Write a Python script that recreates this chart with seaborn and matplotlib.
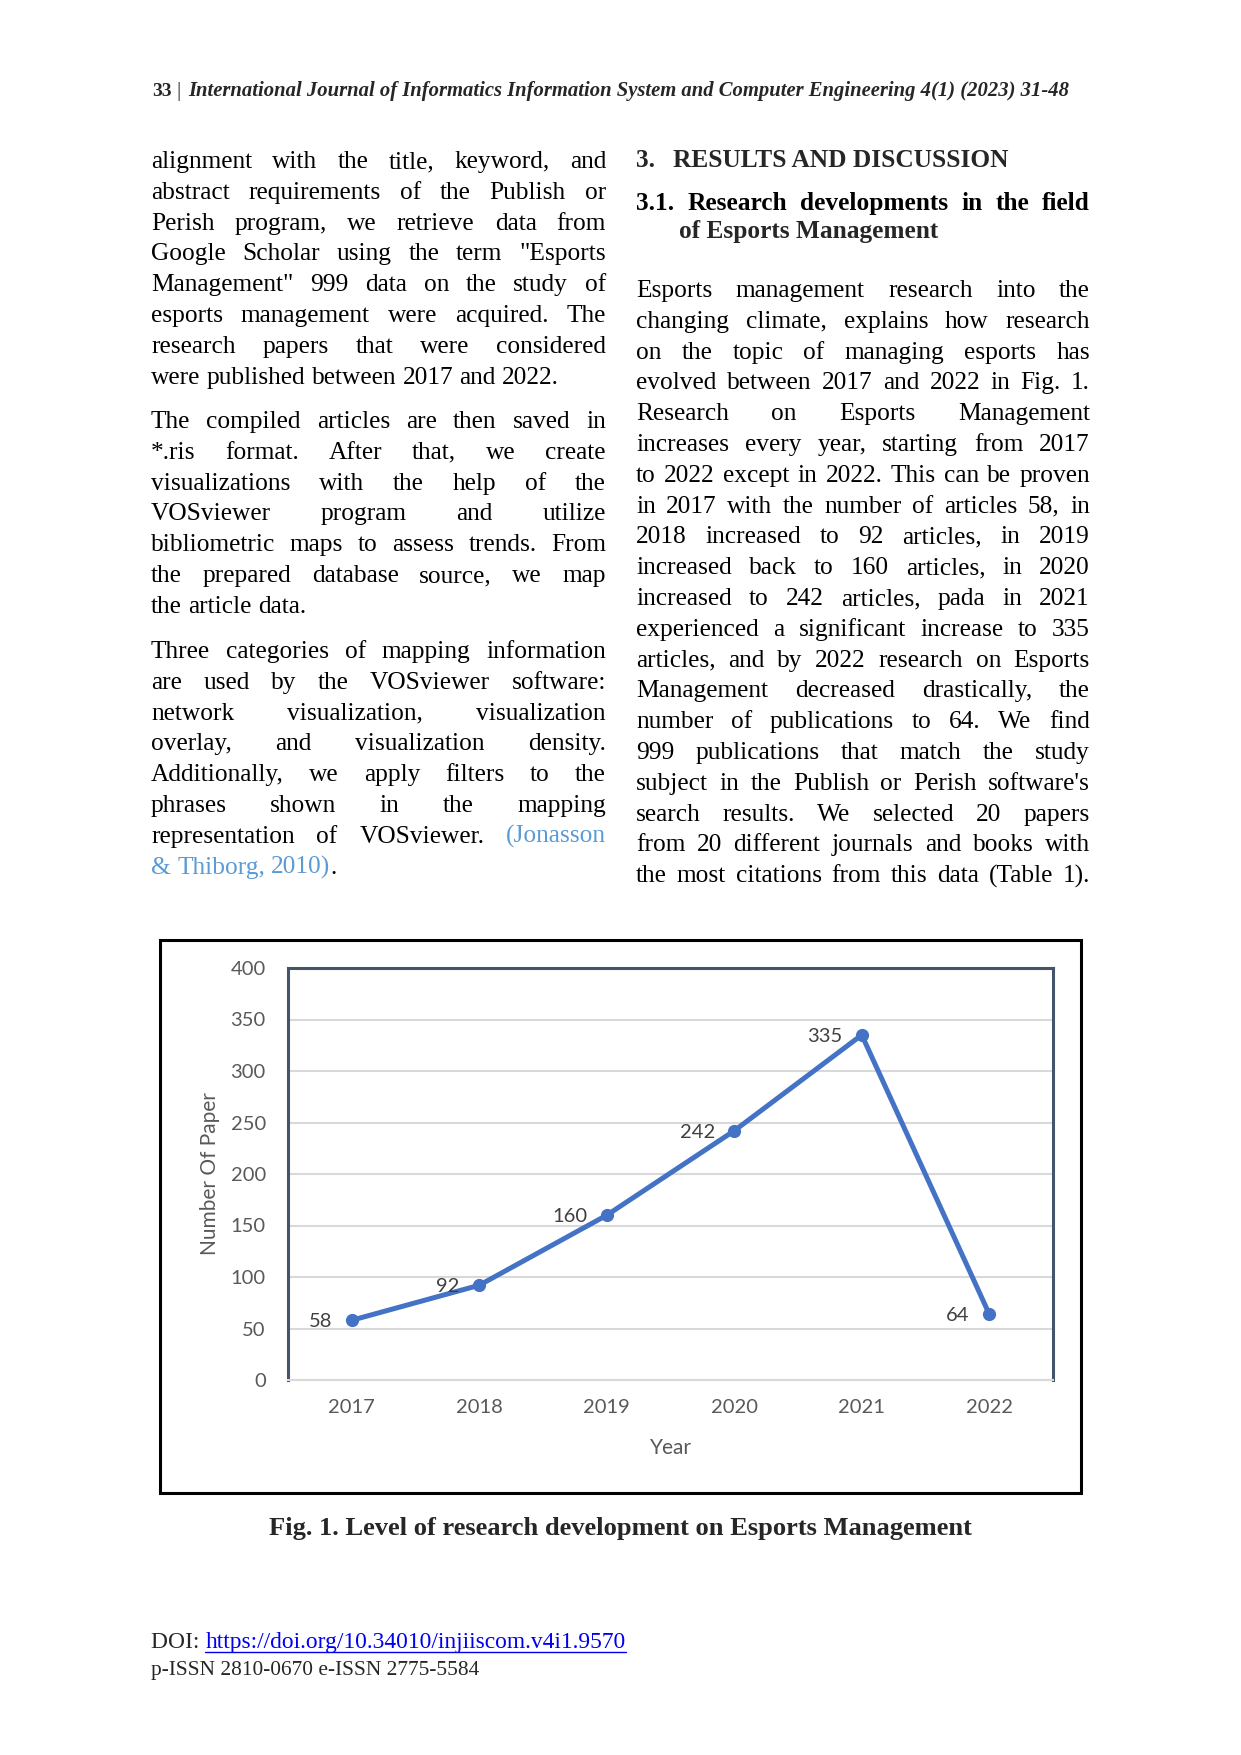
import matplotlib
matplotlib.use("Agg")
import matplotlib.pyplot as plt
import seaborn as sns
from matplotlib.patches import Rectangle

# chart data
years = ["2017", "2018", "2019", "2020", "2021", "2022"]
papers = [58, 92, 160, 242, 335, 64]
y_ticks = [0, 50, 100, 150, 200, 250, 300, 350, 400]

# page text, line by line as in the paper
header_num = "33"
header_title = "International Journal of Informatics Information System and Computer Engineering 4(1) (2023) 31-48"

left_p1 = [
    "alignment with the title, keyword, and",
    "abstract requirements of the Publish or",
    "Perish program, we retrieve data from",
    "Google Scholar using the term \"Esports",
    "Management\" 999 data on the study of",
    "esports management were acquired. The",
    "research papers that were considered",
    "were published between 2017 and 2022.",
]
left_p2 = [
    "The compiled articles are then saved in",
    "*.ris format. After that, we create",
    "visualizations with the help of the",
    "VOSviewer program and utilize",
    "bibliometric maps to assess trends. From",
    "the prepared database source, we map",
    "the article data.",
]
left_p3 = [
    "Three categories of mapping information",
    "are used by the VOSviewer software:",
    "network visualization, visualization",
    "overlay, and visualization density.",
    "Additionally, we apply filters to the",
    "phrases shown in the mapping",
    "representation of VOSviewer.",
]
right_body = [
    "Esports management research into the",
    "changing climate, explains how research",
    "on the topic of managing esports has",
    "evolved between 2017 and 2022 in Fig. 1.",
    "Research on Esports Management",
    "increases every year, starting from 2017",
    "to 2022 except in 2022. This can be proven",
    "in 2017 with the number of articles 58, in",
    "2018 increased to 92 articles, in 2019",
    "increased back to 160 articles, in 2020",
    "increased to 242 articles, pada in 2021",
    "experienced a significant increase to 335",
    "articles, and by 2022 research on Esports",
    "Management decreased drastically, the",
    "number of publications to 64.  We find",
    "999 publications that match the study",
    "subject in the Publish or Perish software's",
    "search results. We selected 20 papers",
    "from 20 different journals and books with",
    "the most citations from this data (Table 1).",
]
caption = "Fig. 1. Level of research development on Esports Management"
doi_url = "https://doi.org/10.34010/injiiscom.v4i1.9570"
issn = "p-ISSN 2810-0670 e-ISSN 2775-5584"

W, H = 1241, 1755
SERIF = "Liberation Serif"
BODY = 18.3
LEAD = 30.8
CITE = "#5B9BD5"

sns.set_style("white")
plt.rcParams["font.family"] = ["Lato", "DejaVu Sans"]

fig = plt.figure(figsize=(W / 100, H / 100), dpi=100)
renderer = fig.canvas.get_renderer()


def fx(x):
    return x / W


def fy(y):
    return 1 - y / H


def make_words(tokens, size, **kw):
    words = []
    for tok in tokens:
        segs = [(tok, "black")] if isinstance(tok, str) else tok
        objs = []
        for s, c in segs:
            t = fig.text(0, 0, s, color=c, ha="left", va="baseline",
                         fontsize=size, **kw)
            objs.append((t, t.get_window_extent(renderer).width))
        words.append(objs)
    return words


def put_line(tokens, x0, x1, y, justify=True, size=BODY, **kw):
    # tokens: words; a word is a string or a list of (text, colour) pieces
    words = make_words(tokens, size, **kw)
    widths = [sum(w for _, w in objs) for objs in words]
    em = size * 100 / 72
    need = sum(widths) + 0.2 * em * (len(words) - 1)
    if need > x1 - x0:
        # line too long for this font: shrink it a little
        for objs in words:
            for t, _ in objs:
                t.remove()
        size = size * (x1 - x0) / need
        em = size * 100 / 72
        words = make_words(tokens, size, **kw)
        widths = [sum(w for _, w in objs) for objs in words]
    gap = em * 0.25
    if justify and len(words) > 1:
        gap = (x1 - x0 - sum(widths)) / (len(words) - 1)
    x = x0
    for objs in words:
        for t, w in objs:
            t.set_position((fx(x), fy(y)))
            x += w
        x += gap


def put_par(lines, x0, x1, y0, last_justify=False):
    for i, line in enumerate(lines):
        last = i == len(lines) - 1
        put_line(line.split(), x0, x1, y0 + i * LEAD,
                 justify=(not last) or last_justify, family=SERIF)


def fit_size(text, width, **kw):
    t = fig.text(0, 0, text, **kw)
    w = t.get_window_extent(renderer).width
    t.remove()
    return kw["fontsize"] * width / w


# header
fig.text(fx(152), fy(96), header_num, family=SERIF, fontweight="bold",
         fontsize=14, va="baseline")
fig.text(fx(176), fy(96), "|", family=SERIF, fontsize=15, va="baseline")
hs = fit_size(header_title, 1073 - 188, family=SERIF, fontweight="bold",
              fontstyle="italic", fontsize=14)
fig.text(fx(188), fy(96), header_title, family=SERIF, fontweight="bold",
         fontstyle="italic", fontsize=hs, va="baseline")

# left column
LX0, LX1 = 151, 606
put_par(left_p1, LX0, LX1, 168)
put_par(left_p2, LX0, LX1, 428)
put_par(left_p3[:-1], LX0, LX1, 658, last_justify=True)
put_line(left_p3[-1].split() + [[("(Jonasson", CITE)]], LX0, LX1, 658 + 6 * LEAD,
         family=SERIF)
put_line([[("&", CITE)], [("Thiborg,", CITE)], [("2010)", CITE), (".", "black")]],
         LX0, LX1, 658 + 7 * LEAD, justify=False, family=SERIF)

# right column
RX0, RX1 = 636, 1090
fig.text(fx(RX0), fy(167), "3.", family=SERIF, fontweight="bold", fontsize=BODY,
         va="baseline")
fig.text(fx(673), fy(167), "RESULTS AND DISCUSSION", family=SERIF,
         fontweight="bold", fontsize=BODY, va="baseline")
put_line("3.1. Research developments in the field".split(), RX0, RX1, 210,
         family=SERIF, fontweight="bold")
fig.text(fx(679), fy(238), "of Esports Management", family=SERIF,
         fontweight="bold", fontsize=BODY, va="baseline")
put_par(right_body, RX0, RX1, 297, last_justify=True)

# chart
fig.patches.append(Rectangle((fx(160), fy(1493)), fx(1081) - fx(160),
                             fy(940) - fy(1493), transform=fig.transFigure,
                             fill=False, edgecolor="black", linewidth=2.2))

ax = fig.add_axes([fx(288), fy(1380), fx(1053) - fx(288), fy(968) - fy(1380)])
sns.lineplot(x=years, y=papers, ax=ax, color="#4472C4", linewidth=3.6,
             marker="o", markersize=9.5, markeredgewidth=0, sort=False)
ax.set_xlim(-0.5, len(years) - 0.5)
ax.set_ylim(0, 400)
ax.set_yticks(y_ticks)
ax.yaxis.grid(True, color="#D9D9D9", linewidth=1.5)
ax.set_axisbelow(True)
for side in ["top", "left", "right"]:
    ax.spines[side].set_color("#44546A")
    ax.spines[side].set_linewidth(2.2)
ax.spines["bottom"].set_color("#D9D9D9")
ax.spines["bottom"].set_linewidth(1.5)
ax.tick_params(axis="both", length=0, labelsize=14.5, labelcolor="#595959")
ax.tick_params(axis="y", pad=16)
ax.tick_params(axis="x", pad=14)
ax.set_xlabel("Year", fontsize=15, color="#595959")
ax.set_ylabel("Number Of Paper", fontsize=15, color="#595959")
ax.xaxis.set_label_coords(0.5, -0.14)
ax.yaxis.set_label_coords(-0.089, 0.5)
for i, v in enumerate(papers):
    ax.annotate(str(v), (i, v), xytext=(-14, -1), textcoords="offset points",
                ha="right", va="center", fontsize=14.5, color="#404040")

# caption
cs = fit_size(caption, 975 - 269, family=SERIF, fontweight="bold", fontsize=16)
fig.text(fx(269), fy(1535), caption, family=SERIF, fontweight="bold",
         fontsize=cs, va="baseline")

# footer
fs = fit_size("DOI: " + doi_url, 623 - 151, family=SERIF, fontsize=13)
t = fig.text(fx(151), fy(1648), "DOI: ", family=SERIF, fontsize=fs, va="baseline")
dw = t.get_window_extent(renderer).width
u = fig.text(fx(151 + dw), fy(1648), doi_url, family=SERIF, fontsize=fs,
             va="baseline", color="#0000EE")
uw = u.get_window_extent(renderer).width
fig.add_artist(plt.Line2D([fx(151 + dw), fx(151 + dw + uw)], [fy(1652), fy(1652)],
                          color="#0000EE", linewidth=1, transform=fig.transFigure))
ss = fit_size(issn, 478 - 151, family=SERIF, fontsize=13)
fig.text(fx(151), fy(1675), issn, family=SERIF, fontsize=min(ss, fs), va="baseline")

fig.savefig("out.png", dpi=100, facecolor="white")
